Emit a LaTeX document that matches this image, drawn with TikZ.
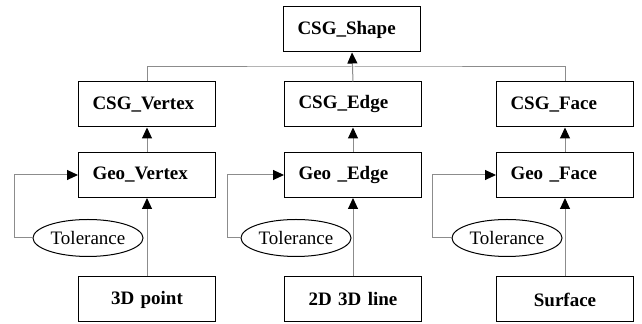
\documentclass[tikz,border=0pt]{standalone}
\usepackage{fontspec}
\setmainfont{Liberation Serif}
\usetikzlibrary{arrows.meta,shapes.geometric}
\tikzset{>/.tip={Triangle[length=5.5pt,width=5pt,color=black]}}
\tikzset{
  cls/.style={draw, line width=0.5pt, inner xsep=7pt, minimum height=22.5pt,
    text width=54.5pt, align=left, font=\bfseries\fontsize{9.5}{11}\selectfont},
  src/.style={cls, align=center},
  tol/.style={draw, ellipse, line width=0.5pt, inner sep=0pt, minimum width=55pt,
    minimum height=18.5pt, font=\fontsize{9.5}{11}\selectfont},
  link/.style={draw=black!45, line width=0.5pt}
}
\begin{document}
\begin{tikzpicture}[x=0.5pt,y=-0.5pt]
\useasboundingbox (0,0) rectangle (642,324);
\node[cls] (shape) at (352,29.5) {CSG\_Shape};
\node[cls] (csgv) at (147,104.5) {CSG\_Vertex};
\node[cls] (csge) at (353,104.5) {CSG\_Edge};
\node[cls] (csgf) at (565,104.5) {CSG\_Face};
\node[cls] (geov) at (147,175) {Geo\_Vertex};
\node[cls] (geoe) at (353,175) {Geo \_Edge};
\node[cls] (geof) at (565,175) {Geo \_Face};
\node[tol] (tolv) at (88,238) {Tolerance};
\node[tol] (tole) at (296,238) {Tolerance};
\node[tol] (tolf) at (507,238) {Tolerance};
\node[src] (point) at (147,299.5) {3D point};
\node[src] (line) at (353,299.5) {2D 3D line};
\node[src] (surf) at (565,299.5) {Surface};
\coordinate (bar) at (353,67);
\coordinate (kv) at (14,238);
\coordinate (ke) at (227,238);
\coordinate (kf) at (432,238);

\draw[link] (csgv.north) |- (bar) -| (csgf.north);
\draw[link,->] (csge.north) -- (shape.south);
\draw[link,->] (geov) -- (csgv);
\draw[link,->] (geoe) -- (csge);
\draw[link,->] (geof) -- (csgf);
\draw[link,->] (point) -- (geov);
\draw[link,->] (line) -- (geoe);
\draw[link,->] (surf) -- (geof);
\draw[link,->] (tolv.west) -- (kv) |- (geov.west);
\draw[link,->] (tole.west) -- (ke) |- (geoe.west);
\draw[link,->] (tolf.west) -- (kf) |- (geof.west);
\end{tikzpicture}
\end{document}
